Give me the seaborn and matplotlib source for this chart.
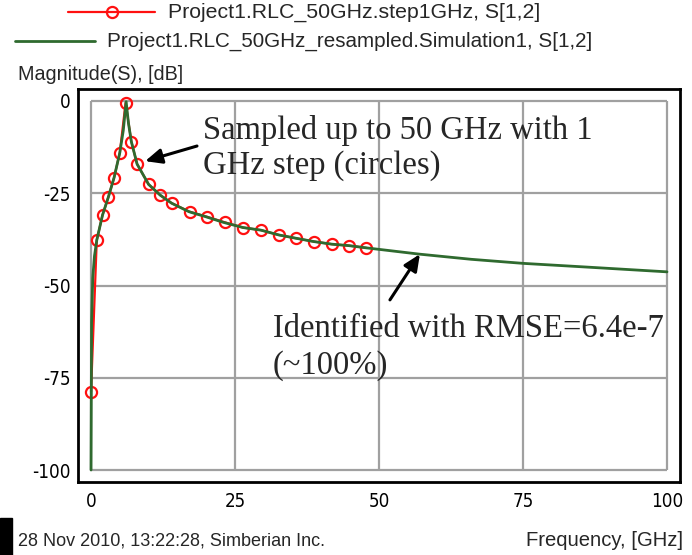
import matplotlib
matplotlib.use("Agg")
import matplotlib.pyplot as plt
import seaborn as sns
import pandas as pd
from matplotlib.lines import Line2D
from matplotlib.patches import Rectangle

# ---- data ----
step_freq = [0, 1, 2, 3, 4, 5, 6, 7, 8, 10, 12, 14, 17.1, 20.2, 23.3, 26.4,
             29.5, 32.6, 35.6, 38.7, 41.8, 44.8, 47.8]
step_db = [-78.8, -37.7, -30.9, -26.1, -20.8, -14.0, -0.5, -11.0, -17.1, -22.6,
           -25.5, -27.7, -30.0, -31.4, -32.9, -34.3, -35.0, -36.3, -37.2, -38.1,
           -38.8, -39.2, -39.8]
sim_freq = [0, 0.1, 0.3, 0.6, 1, 2, 3, 4, 5, 5.6, 6.1, 6.5, 7, 8, 10, 12, 14, 17,
            20, 23, 26.4, 29.5, 32.6, 35.6, 38.7, 41.8, 44.8, 47.8, 57, 66, 75, 86, 100]
sim_db = [-100, -60, -48, -42, -37.7, -30.9, -26.1, -20.8, -14.0, -8.0, -0.2, -6.0,
          -11.0, -17.1, -22.6, -25.5, -27.7, -30.0, -31.4, -32.9, -34.3, -35.0,
          -36.3, -37.2, -38.1, -38.8, -39.2, -39.8, -41.5, -42.9, -44.0, -45.0, -46.3]
x_ticks = [0, 25, 50, 75, 100]
y_ticks = [0, -25, -50, -75, -100]
legend_labels = ["Project1.RLC_50GHz.step1GHz, S[1,2]",
                 "Project1.RLC_50GHz_resampled.Simulation1, S[1,2]"]

sns.set_style("white")
ui_font = ["Liberation Sans", "DejaVu Sans"]
serif_font = ["Liberation Serif", "DejaVu Serif"]
plt.rcParams["font.family"] = ui_font

W, H = 692, 555
fig = plt.figure(figsize=(W / 100, H / 100), dpi=100)
fig.patch.set_facecolor("white")


def fx(px):
    return px / W


def fy(py):
    return 1 - py / H


ax = fig.add_axes([fx(78), fy(482), (680 - 78) / W, (482 - 89) / H])

df_step = pd.DataFrame({"f": step_freq, "db": step_db})
df_sim = pd.DataFrame({"f": sim_freq, "db": sim_db})

red = "#ff1010"
green = "#2f6a2f"
sns.lineplot(data=df_step, x="f", y="db", ax=ax, color=red, lw=1.6,
             marker="o", markersize=8, markerfacecolor="none",
             markeredgecolor=red, markeredgewidth=1.6, zorder=3)
sns.lineplot(data=df_sim, x="f", y="db", ax=ax, color=green, lw=2.0, zorder=4)

# limits: data box inset from frame
ax.set_xlim(-2.26, 102.26)
ax.set_ylim(-103.25, 3.25)

# grid within data range
ax.vlines(x_ticks, min(y_ticks), max(y_ticks), color="#a0a0a0", lw=1.6, zorder=1)
ax.hlines(y_ticks, min(x_ticks), max(x_ticks), color="#a0a0a0", lw=1.6, zorder=1)

ax.set_xticks(x_ticks)
ax.set_yticks(y_ticks)
ax.set_xticklabels([str(v) for v in x_ticks])
ax.set_yticklabels([str(v) for v in y_ticks])
ax.tick_params(axis="both", direction="inout", length=8, width=1.5,
               color="black", labelsize=13.5, labelcolor="black")
ax.tick_params(axis="x", pad=3)
ax.tick_params(axis="y", pad=1)
for lab in ax.get_xticklabels() + ax.get_yticklabels():
    lab.set_fontfamily(["DejaVu Sans"])
    lab.set_fontstretch("condensed")
for s in ax.spines.values():
    s.set_visible(True)
    s.set_color("black")
    s.set_linewidth(2)
ax.set_xlabel("")
ax.set_ylabel("")
if ax.get_legend() is not None:
    ax.get_legend().remove()

# annotations
arrow_style = dict(arrowstyle="-|>,head_length=1.0,head_width=0.45",
                   color="black", lw=2.2, shrinkA=0, shrinkB=0)
ax.annotate("", xy=(9.4, -16.3), xytext=(18.4, -12.2),
            arrowprops=arrow_style, zorder=6)
ax.annotate("", xy=(57.1, -41.5), xytext=(51.9, -53.9),
            arrowprops=arrow_style, zorder=6)
ax.text(19.4, -12.7, "Sampled up to 50 GHz with 1\nGHz step (circles)",
        family=serif_font, fontsize=23.5, va="center", ha="left",
        linespacing=1.17, zorder=7)
ax.text(31.6, -66.8, "Identified with RMSE=6.4e-7\n(~100%)",
        family=serif_font, fontsize=23.5, va="center", ha="left",
        linespacing=1.25, zorder=7)

# legend (manual, centered lines)
fig.add_artist(Line2D([fx(68), fx(155)], [fy(12), fy(12)], color=red, lw=1.6))
fig.add_artist(Line2D([fx(111.5)], [fy(12)], color=red, marker="o", markersize=8,
                      markerfacecolor="none", markeredgewidth=1.6))
fig.text(fx(168), fy(12), legend_labels[0], fontsize=15.3, va="center", ha="left")
fig.add_artist(Line2D([fx(15), fx(95)], [fy(41), fy(41)], color=green, lw=2))
fig.text(fx(107), fy(41), legend_labels[1], fontsize=14.9, va="center", ha="left")

fig.text(fx(18), fy(74), "Magnitude(S), [dB]", fontsize=14.2, va="center", ha="left")
fig.text(fx(18), fy(541), "28 Nov 2010, 13:22:28, Simberian Inc.", fontsize=13,
         va="center", ha="left")
fig.text(fx(683), fy(541), "Frequency, [GHz]", fontsize=14.6, va="center", ha="right")

# black block at bottom-left
fig.add_artist(Rectangle((0, 0), fx(12), 37 / H, transform=fig.transFigure,
                         color="black", zorder=0))

fig.savefig("out.png", dpi=100)
